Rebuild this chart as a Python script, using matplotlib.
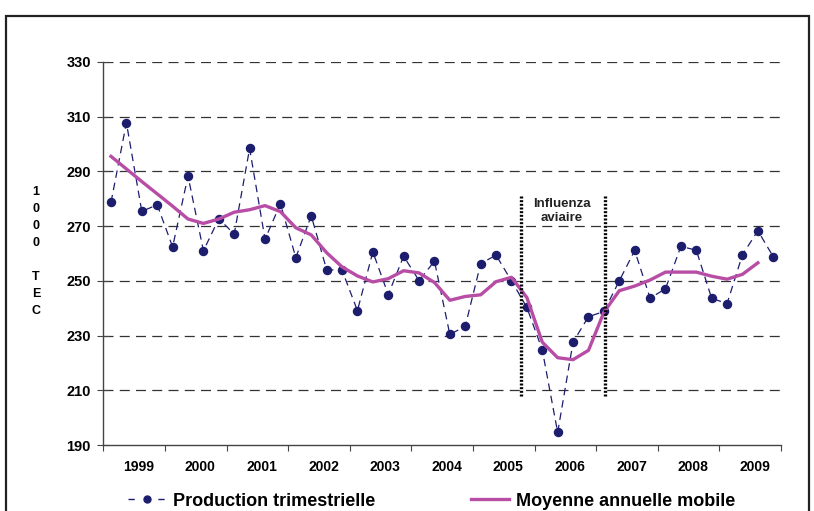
import numpy as np
import matplotlib
matplotlib.use("Agg")
import matplotlib.pyplot as plt
from matplotlib.patches import Rectangle
from matplotlib.lines import Line2D

plt.rcParams['font.family'] = ['Liberation Sans', 'DejaVu Sans']

# quarterly production (1000 TEC), 1999 Q1 .. 2009 Q4
production = [278.7, 307.8, 275.4, 277.8, 262.4, 288.3, 261.0, 272.7,
              267.1, 298.4, 265.2, 278.2, 258.5, 273.8, 254.1, 253.9,
              239.1, 260.6, 245.0, 259.0, 250.1, 257.2, 230.4, 233.4,
              256.3, 259.4, 250.0, 240.3, 224.8, 194.6, 227.6, 236.9,
              238.8, 250.0, 261.1, 243.7, 247.1, 262.6, 261.2, 243.6,
              241.7, 259.6, 268.3, 258.8]
# annual moving average, 1999 Q1 .. 2009 Q3
moving_avg = [295.5, 290.9, 286.3, 281.8, 277.3, 272.6, 271.0, 272.6,
              275.1, 276.0, 277.5, 275.3, 269.4, 266.8, 260.3, 255.1,
              251.8, 249.6, 250.8, 253.7, 252.9, 249.4, 242.9, 244.3,
              244.9, 249.7, 251.3, 243.9, 227.6, 221.9, 221.2, 224.6,
              238.5, 246.4, 248.1, 250.3, 253.2, 253.2, 253.2, 251.7,
              250.6, 252.4, 256.6]
years = ['1999', '2000', '2001', '2002', '2003', '2004', '2005', '2006',
         '2007', '2008', '2009']
y_ticks = [190, 210, 230, 250, 270, 290, 310, 330]
flu_start, flu_end = 27.1, 32.6

navy = '#1d1d6e'
magenta = '#b84da6'

fig = plt.figure(figsize=(8.14, 5.11), dpi=100)
fig.patches.append(Rectangle((6 / 814, -0.1), 803 / 814, 1.1 - 16 / 511,
                             transform=fig.transFigure, fill=False,
                             edgecolor='#222222', linewidth=1.6))

ax = fig.add_axes([103.3 / 814, 1 - 445 / 511, 677.7 / 814, 383 / 511])

xp = np.arange(len(production)) + 0.5
xm = np.arange(len(moving_avg)) + 0.5
ax.plot(xp, production, color=navy, linestyle=(0, (6, 4)), linewidth=0.9,
        marker='o', markersize=5.8, zorder=3)
ax.plot(xm, moving_avg, color=magenta, linewidth=2.4, zorder=4)

for xv in (flu_start, flu_end):
    ax.plot([xv, xv], [208, 281.5], color='black', linewidth=2.4,
            linestyle=(0, (0.6, 0.5)), zorder=5)
ax.text((flu_start + flu_end) / 2 - 0.1, 280.2, 'Influenza\naviaire', ha='center',
        va='top', fontsize=9.5, fontweight='bold', color='#222222',
        linespacing=1.25)

ax.set_xlim(0, 4 * len(years))
ax.set_ylim(190, 330)
ax.set_yticks(y_ticks)
ax.set_yticklabels([str(v) for v in y_ticks], fontsize=10.5, fontweight='bold')
ax.set_xticks(np.arange(0, 4 * len(years) + 1, 4))
ax.set_xticklabels([])
ax.set_xticks(np.arange(len(years)) * 4 + 2.3, minor=True)
ax.set_xticklabels(years, minor=True, fontsize=10, fontweight='bold')
ax.tick_params(axis='x', which='minor', length=0, pad=11)
ax.tick_params(axis='x', which='major', length=4, direction='out', color='#444444')
ax.tick_params(axis='y', length=8, direction='inout', color='#444444', pad=5)

for v in y_ticks[1:]:
    ax.axhline(v, color='#333333', linewidth=0.9, linestyle=(0, (8, 5)), zorder=1)

for s in ('top', 'right'):
    ax.spines[s].set_visible(False)
for s in ('left', 'bottom'):
    ax.spines[s].set_color('#444444')
    ax.spines[s].set_linewidth(1.0)

fig.text(36 / 814, 1 - 251.5 / 511, '1\n0\n0\n0\n\nT\nE\nC', ha='center',
         va='center', fontsize=9, fontweight='bold', linespacing=1.55)

handles = [Line2D([], [], color=navy, linestyle=(0, (4.5, 17)), linewidth=1.0,
                  marker='o', markersize=5),
           Line2D([], [], color=magenta, linewidth=2.4)]
fig.legend(handles, ['Production trimestrielle', 'Moyenne annuelle mobile'],
           loc='center left', bbox_to_anchor=(112 / 814, 1 - 501 / 511),
           ncol=2, frameon=False, handlelength=2.1, handletextpad=0.4,
           columnspacing=5.3, prop={'size': 13, 'weight': 'bold'})

fig.savefig('out.png', dpi=100)
